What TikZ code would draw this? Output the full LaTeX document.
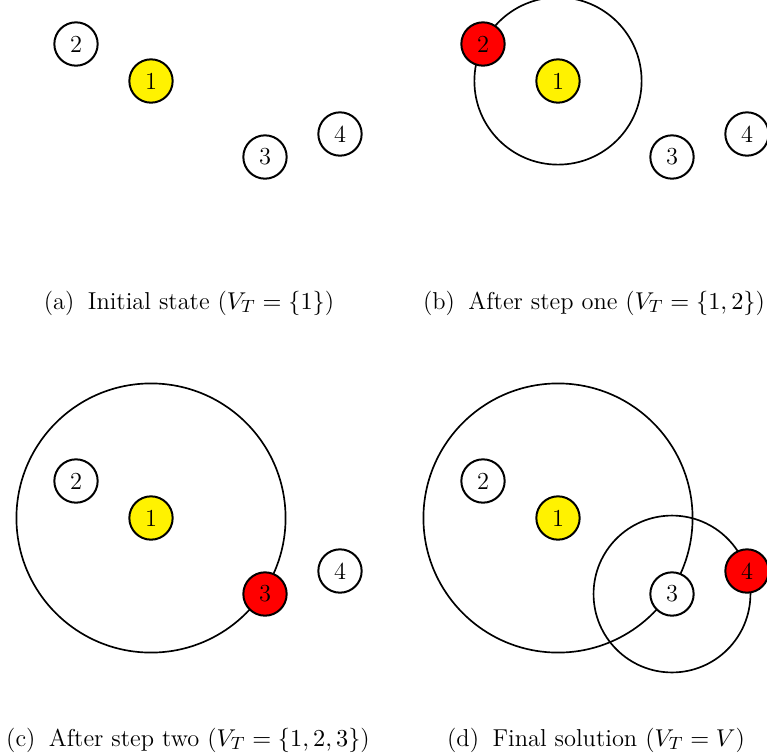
\documentclass[tikz,border=0pt]{standalone}
\usetikzlibrary{calc}
\newcommand{\sublab}[1]{(#1)\hspace{0.55em}}
\begin{document}
\begin{tikzpicture}[x=0.45pt,y=-0.45pt,
  every node/.style={font=\fontsize{11}{13}\selectfont},
  vert/.style={circle,draw,line width=0.9pt,fill=white,minimum size=19.5pt,inner sep=0pt},
  start/.style={vert,fill=yellow},
  picked/.style={vert,fill=red},
  reach/.style={line width=0.75pt},
  captext/.style={anchor=base}]
\useasboundingbox (0,0) rectangle (767,755);
% panel a
\node[vert] (a2) at (76,44) {2};
\node[start] (a1) at (151,81) {1};
\node[vert] (a3) at (265,157) {3};
\node[vert] (a4) at (340,134) {4};
\node[captext] (ca) at (189,309) {\sublab{a}Initial state ($V_T=\{1\}$)};
% panel b
\coordinate (b1c) at (558,81);
\coordinate (b2c) at (483,44);
\draw[reach] let \p1=($(b2c)-(b1c)$), \n1={veclen(\x1,\y1)} in (b1c) circle (\n1);
\node[picked] (b2) at (b2c) {2};
\node[start] (b1) at (b1c) {1};
\node[vert] (b3) at (672,157) {3};
\node[vert] (b4) at (747,134) {4};
\node[captext] (cb) at (594,309) {\sublab{b}After step one ($V_T=\{1,2\}$)};
% panel c
\coordinate (c1c) at (151,518);
\coordinate (c3c) at (265,594);
\draw[reach] let \p1=($(c3c)-(c1c)$), \n1={veclen(\x1,\y1)} in (c1c) circle ({\n1-1});
\node[vert] (c2) at (76,481) {2};
\node[start] (c1) at (c1c) {1};
\node[picked] (c3) at (c3c) {3};
\node[vert] (c4) at (340,571) {4};
\node[captext] (cc) at (188,746) {\sublab{c}After step two ($V_T=\{1,2,3\}$)};
% panel d
\coordinate (d1c) at (558,518);
\coordinate (d3c) at (672,594);
\coordinate (d4c) at (747,571);
\draw[reach] let \p1=($(d3c)-(d1c)$), \n1={veclen(\x1,\y1)} in (d1c) circle ({\n1-1});
\draw[reach] let \p1=($(d4c)-(d3c)$), \n1={veclen(\x1,\y1)} in (d3c) circle (\n1);
\node[vert] (d2) at (483,481) {2};
\node[start] (d1) at (d1c) {1};
\node[vert] (d3) at (d3c) {3};
\node[picked] (d4) at (d4c) {4};
\node[captext] (cd) at (596,746) {\sublab{d}Final solution ($V_T=V$)};
\end{tikzpicture}
\end{document}
